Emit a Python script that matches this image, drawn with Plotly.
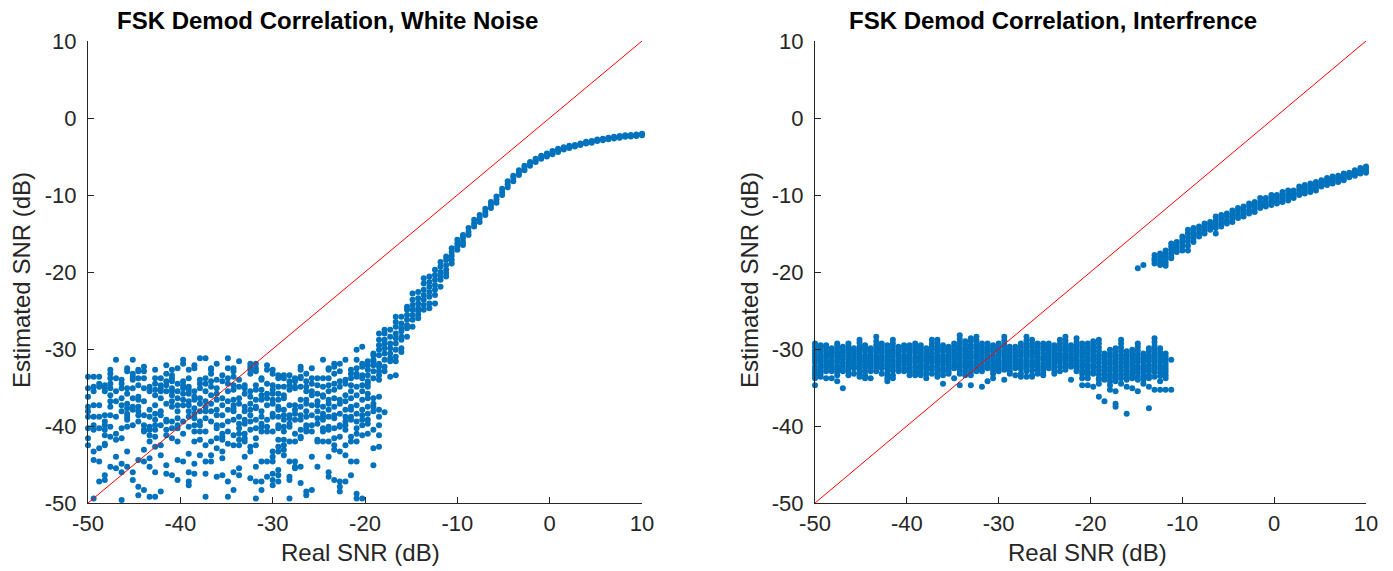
import plotly.graph_objects as go

# Real SNR grid (dB), one column of trials per value
snr_db = [-50.00,-49.39,-48.79,-48.18,-47.58,-46.97,-46.36,-45.76,-45.15,-44.55,
          -43.94,-43.33,-42.73,-42.12,-41.52,-40.91,-40.30,-39.70,-39.09,-38.48,
          -37.88,-37.27,-36.67,-36.06,-35.45,-34.85,-34.24,-33.64,-33.03,-32.42,
          -31.82,-31.21,-30.61,-30.00,-29.39,-28.79,-28.18,-27.58,-26.97,-26.36,
          -25.76,-25.15,-24.55,-23.94,-23.33,-22.73,-22.12,-21.52,-20.91,-20.30,
          -19.70,-19.09,-18.48,-17.88,-17.27,-16.67,-16.06,-15.45,-14.85,-14.24,
          -13.64,-13.03,-12.42,-11.82,-11.21,-10.61,-10.00,-9.39,-8.79,-8.18,
          -7.58,-6.97,-6.36,-5.76,-5.15,-4.55,-3.94,-3.33,-2.73,-2.12,
          -1.52,-0.91,-0.30,0.30,0.91,1.52,2.12,2.73,3.33,3.94,
          4.55,5.15,5.76,6.36,6.97,7.58,8.18,8.79,9.39,10.00]

# Estimated SNR (dB), white-noise case: one list of trial estimates per snr_db value
white_noise_est = [
    [-33.6,-35.1,-36.2,-37.5,-38.1,-38.8,-40.3,-41.6,-42.5],
    [-33.6,-34.9,-35.5,-37.3,-38.8,-39.9,-40.5,-43.3,-44.4,-49.4],
    [-33.6,-34.5,-34.9,-37.3,-38.8,-40.3,-42.9,-44.6,-47.2],
    [-34.7,-35.1,-35.5,-38.6,-39.4,-39.9,-40.5,-41.2,-42.3,-42.5,-46.4,-47.0],
    [-32.7,-33.2,-33.8,-34.5,-35.1,-36.0,-36.8,-37.5,-38.6,-40.1,-41.4,-45.3],
    [-31.4,-33.8,-35.5,-36.8,-38.8,-41.0,-41.8,-44.0,-45.5],
    [-34.0,-34.5,-35.1,-36.4,-37.3,-38.1,-40.3,-41.6,-44.9,-46.0,-49.6],
    [-32.5,-32.9,-35.1,-35.8,-37.1,-37.7,-38.4,-38.8,-39.2,-40.1,-43.3,-45.3],
    [-31.4,-33.2,-33.6,-34.0,-35.1,-36.4,-37.5,-37.9,-39.9,-46.0,-47.0],
    [-32.7,-32.9,-33.8,-34.7,-36.2,-36.6,-37.5,-38.1,-38.6,-39.4,-44.4,-47.9,-49.0],
    [-32.3,-32.9,-33.8,-35.1,-36.8,-38.6,-39.9,-40.5,-40.7,-43.1,-44.6,-48.3],
    [-34.9,-35.5,-37.9,-38.8,-40.1,-40.5,-41.2,-42.0,-44.2,-45.3,-49.2],
    [-32.7,-33.8,-34.5,-35.3,-36.0,-37.3,-38.4,-39.2,-39.9,-40.5,-41.4,-42.7,-46.0,-49.2],
    [-33.8,-34.7,-35.1,-35.5,-36.4,-38.1,-38.6,-39.9,-42.5,-43.8,-48.5],
    [-32.1,-33.2,-34.2,-34.7,-35.5,-37.1,-39.2,-39.4,-40.5,-41.2,-45.1,-46.2],
    [-32.7,-33.4,-33.8,-34.2,-35.1,-35.5,-36.0,-36.8,-37.5,-39.4,-40.3,-41.6,-46.4],
    [-32.5,-34.5,-35.5,-36.4,-37.3,-38.1,-39.0,-39.9,-40.3,-42.0,-44.4,-47.0],
    [-31.4,-31.9,-34.2,-34.7,-35.1,-35.8,-36.6,-37.3,-39.4,-41.0,-44.6],
    [-32.7,-33.8,-34.9,-35.3,-35.8,-36.8,-37.3,-38.1,-38.8,-40.1,-43.6,-46.0,-47.2,-47.7],
    [-32.1,-32.5,-35.5,-36.2,-36.6,-37.7,-38.4,-39.0,-39.9,-40.7,-42.0,-44.9,-46.2],
    [-31.2,-34.0,-34.5,-35.1,-36.4,-37.1,-38.1,-39.4,-39.9,-40.7,-41.8,-43.8],
    [-31.2,-33.8,-34.5,-35.5,-36.8,-37.5,-38.1,-39.0,-40.7,-42.5,-44.6,-46.2,-49.2],
    [-32.5,-32.7,-33.2,-34.2,-34.9,-36.0,-37.1,-38.1,-39.4,-42.0,-43.8,-44.6],
    [-31.9,-34.0,-35.1,-35.8,-36.6,-37.9,-38.6,-39.9,-40.3,-41.6,-42.9,-46.6],
    [-33.4,-34.2,-36.4,-37.3,-38.6,-39.9,-41.0,-41.4,-41.8,-43.3,-44.2,-46.4],
    [-31.2,-32.5,-33.8,-34.5,-35.5,-36.8,-37.9,-39.4,-40.7,-42.3,-47.2,-49.2],
    [-32.5,-32.9,-33.6,-34.7,-35.3,-36.6,-37.3,-37.7,-38.1,-39.2,-41.2,-42.5,-46.0,-48.3],
    [-31.6,-34.0,-34.9,-36.4,-37.1,-38.8,-39.7,-40.3,-41.0,-41.8,-42.5,-45.5,-46.4],
    [-34.7,-35.1,-35.8,-37.5,-38.1,-39.2,-39.7,-41.0,-41.6,-42.0,-44.0],
    [-31.9,-32.3,-32.7,-33.2,-35.5,-36.2,-37.1,-37.9,-38.6,-39.4,-40.5,-42.7,-43.3,-46.8],
    [-31.9,-32.5,-32.9,-34.7,-35.3,-36.6,-37.5,-37.7,-39.2,-40.3,-41.6,-42.5,-45.3,-47.2,-49.4],
    [-33.8,-34.0,-35.3,-36.0,-36.6,-38.1,-38.8,-39.7,-40.1,-40.7,-44.6,-47.2,-48.3],
    [-32.1,-32.7,-34.5,-35.8,-36.4,-37.3,-39.2,-40.1,-40.7,-44.6,-46.6],
    [-32.7,-33.2,-34.7,-35.3,-35.8,-36.6,-37.1,-38.4,-38.8,-40.7,-43.3,-44.0,-44.6,-46.2,-47.0,-47.7],
    [-33.4,-33.8,-34.9,-35.8,-36.6,-37.5,-37.9,-38.8,-39.9,-40.3,-41.8,-42.7,-43.3,-45.7,-46.4,-47.2],
    [-33.4,-33.8,-34.9,-36.0,-36.4,-37.9,-38.6,-39.2,-40.1,-40.7,-41.8,-42.5,-43.1,-43.8],
    [-33.4,-34.2,-34.7,-35.3,-37.3,-38.6,-39.0,-39.7,-40.1,-42.0,-44.6,-46.6,-47.0,-49.4],
    [-33.8,-34.2,-34.9,-35.1,-37.3,-37.9,-38.4,-39.2,-41.0,-42.0,-44.6,-45.3,-45.5],
    [-32.3,-32.7,-33.6,-33.8,-34.9,-36.6,-37.5,-38.6,-39.2,-40.5,-41.4,-41.6,-45.3,-47.4],
    [-33.2,-34.2,-34.9,-35.5,-36.6,-37.1,-38.1,-38.8,-39.9,-40.3,-40.7,-48.5,-49.0],
    [-32.5,-33.8,-34.5,-35.5,-36.0,-37.3,-38.6,-39.9,-40.7,-44.0,-48.3],
    [-33.8,-34.7,-35.8,-36.8,-37.3,-38.1,-39.0,-39.7,-41.8,-42.0,-45.3],
    [-31.4,-33.8,-34.9,-36.0,-36.2,-37.5,-38.4,-38.8,-39.2,-40.3,-40.7,-42.0],
    [-32.5,-32.7,-33.8,-34.7,-35.5,-36.6,-37.1,-37.9,-38.8,-40.1,-40.5,-42.0,-44.0,-46.0,-46.6],
    [-31.9,-32.3,-33.2,-34.5,-35.3,-36.4,-37.5,-38.6,-39.0,-40.3,-41.6,-42.5,-43.1,-47.0],
    [-31.9,-32.9,-34.2,-34.9,-36.6,-37.1,-38.4,-39.9,-40.1,-41.4,-43.3,-47.2,-47.9,-48.5],
    [-31.4,-34.0,-34.5,-36.0,-36.8,-37.9,-38.8,-39.4,-39.9,-40.5,-42.5,-43.8,-47.2],
    [-32.7,-33.2,-33.8,-34.7,-35.5,-36.4,-37.5,-37.9,-38.8,-39.2,-41.4,-42.0,-44.6,-46.4],
    [-30.1,-31.4,-32.5,-33.2,-33.6,-34.9,-36.0,-37.3,-38.4,-39.4,-40.3,-41.0,-42.0,-44.6,-48.8,-49.4],
    [-29.7,-31.9,-32.3,-33.4,-33.8,-34.7,-35.5,-36.6,-37.9,-38.6,-39.2,-39.9,-41.2,-49.4],
    [-31.6,-32.1,-32.7,-33.4,-34.2,-34.5,-34.9,-35.8,-36.4,-37.5,-38.4,-39.2,-39.7,-41.0],
    [-30.6,-30.8,-31.4,-31.6,-32.1,-32.9,-33.8,-36.4,-37.1,-37.5,-38.1,-40.5,-42.9,-45.1],
    [-28.0,-28.8,-29.5,-30.1,-30.8,-31.9,-32.3,-32.9,-33.4,-34.0,-36.2,-37.9,-38.8,-39.9,-41.2,-42.7],
    [-27.5,-28.0,-28.8,-29.3,-29.9,-30.6,-31.4,-32.3,-32.9,-38.2],
    [-27.5,-28.4,-29.3,-29.9,-30.6,-31.2,-31.6,-33.6],
    [-25.8,-26.5,-27.1,-28.0,-28.6,-29.3,-30.1,-31.0,-31.6,-33.4],
    [-25.8,-26.7,-27.3,-27.7,-28.4,-28.8,-29.9,-30.4],
    [-24.5,-24.9,-25.6,-26.2,-26.9,-27.3,-28.4],
    [-22.8,-23.6,-24.3,-24.9,-25.6,-26.2,-27.1],
    [-22.6,-23.4,-24.1,-24.7,-25.1,-25.6,-26.0],
    [-20.8,-21.5,-22.3,-23.0,-23.6,-24.3,-24.9],
    [-20.6,-21.3,-21.9,-22.6,-23.2,-24.1,-24.7],
    [-19.7,-20.4,-21.0,-21.7,-22.3,-23.0,-24.1],
    [-18.7,-19.3,-20.0,-20.6,-21.0,-21.9],
    [-18.0,-18.4,-19.1,-19.7,-20.2,-20.6],
    [-16.9,-17.4,-17.9,-18.4,-18.9],
    [-15.8,-16.3,-16.7,-17.1],
    [-15.2,-15.6,-16.1,-16.5],
    [-14.3,-14.8,-15.2],
    [-13.2,-13.7,-14.1],
    [-12.6,-13.0,-13.5],
    [-11.8,-12.2,-12.6],
    [-10.9,-11.3,-11.7],
    [-10.2,-10.6,-11.0],
    [-9.2,-9.6,-10.0],
    [-8.2,-8.6,-9.0],
    [-7.5,-7.8,-8.2],
    [-6.8,-7.1,-7.4],
    [-6.2,-6.5,-6.8],
    [-5.7,-5.9,-6.2],
    [-5.3,-5.5,-5.7],
    [-4.9,-5.1,-5.3],
    [-4.6,-4.8,-5.0],
    [-4.3,-4.5,-4.7],
    [-4.0,-4.2,-4.4],
    [-3.8,-4.0,-4.1],
    [-3.6,-3.8,-3.9],
    [-3.5,-3.6,-3.7],
    [-3.3,-3.4,-3.5],
    [-3.1,-3.2,-3.3],
    [-3.0,-3.1,-3.2],
    [-2.8,-2.9,-3.0],
    [-2.7,-2.8,-2.9],
    [-2.55,-2.65,-2.75],
    [-2.45,-2.55,-2.65],
    [-2.35,-2.45,-2.55],
    [-2.25,-2.35,-2.45],
    [-2.2,-2.3,-2.4],
    [-2.15,-2.25,-2.35],
    [-2.05,-2.15,-2.25],
]

# Estimated SNR (dB), interference case
interference_est = [
    [-29.3,-29.7,-30.2,-30.6,-31.0,-31.4,-31.8,-32.3,-32.7,-33.1,-33.4,-33.8,-34.7],
    [-29.5,-29.9,-30.3,-30.8,-31.2,-31.5,-32.0,-32.4,-32.8,-33.2,-33.6],
    [-29.5,-29.8,-30.3,-30.7,-31.1,-31.6,-32.0,-32.4,-32.9,-33.8],
    [-29.9,-30.3,-30.6,-31.0,-31.5,-31.9,-32.3,-32.6,-32.9,-33.8],
    [-29.3,-29.6,-30.0,-30.5,-30.9,-31.3,-31.7,-32.2,-32.6,-33.0,-33.4,-34.2],
    [-29.7,-30.1,-30.5,-30.9,-31.3,-31.8,-32.2,-32.6,-32.9,-35.1],
    [-29.3,-29.6,-30.1,-30.5,-30.9,-31.4,-31.8,-32.2,-32.6,-33.0,-33.4],
    [-29.9,-30.3,-30.7,-31.1,-31.5,-31.9,-32.3,-32.5,-33.2],
    [-28.8,-29.2,-29.7,-30.1,-30.5,-31.0,-31.4,-31.8,-32.2,-32.7,-33.1,-33.6],
    [-29.5,-29.9,-30.3,-30.8,-31.2,-31.6,-32.0,-32.4,-32.9,-33.4,-33.8],
    [-29.9,-30.2,-30.6,-31.0,-31.4,-31.8,-32.2,-32.6,-32.9,-33.8],
    [-28.4,-29.0,-29.5,-29.9,-30.3,-30.8,-31.2,-31.6,-32.0,-32.4,-32.9],
    [-29.3,-29.7,-30.1,-30.5,-31.0,-31.4,-31.8,-32.1,-32.5,-33.2],
    [-29.5,-29.9,-30.4,-30.8,-31.2,-31.6,-32.1,-32.5,-33.0,-33.4,-33.8,-34.2],
    [-28.8,-29.3,-29.7,-30.2,-30.6,-31.0,-31.5,-31.9,-32.3,-32.8,-33.4,-33.8],
    [-29.7,-30.1,-30.5,-30.9,-31.3,-31.7,-32.1,-32.5,-32.9],
    [-29.5,-29.9,-30.3,-30.8,-31.2,-31.6,-32.0,-32.5,-32.9],
    [-29.5,-29.9,-30.3,-30.7,-31.2,-31.6,-32.0,-32.4,-32.9,-33.4],
    [-29.3,-29.7,-30.1,-30.5,-31.0,-31.4,-31.8,-32.3,-32.7,-33.1,-33.4],
    [-29.5,-29.9,-30.4,-30.8,-31.2,-31.6,-32.1,-32.5,-33.0,-33.4],
    [-29.9,-30.3,-30.7,-31.1,-31.5,-31.9,-32.3,-32.7,-33.2,-33.8],
    [-28.8,-29.3,-29.7,-30.1,-30.6,-31.0,-31.4,-31.8,-32.3,-32.7,-33.2],
    [-28.8,-29.2,-29.7,-30.1,-30.5,-31.0,-31.4,-31.8,-32.2,-32.7,-33.2,-33.6],
    [-29.5,-29.9,-30.3,-30.8,-31.2,-31.6,-32.0,-32.5,-32.9,-33.4,-34.5],
    [-29.7,-30.1,-30.5,-30.9,-31.3,-31.7,-32.1,-32.5,-32.9,-33.2],
    [-29.3,-29.7,-30.1,-30.5,-30.9,-31.3,-31.7,-32.1,-32.5,-33.8],
    [-28.2,-28.7,-29.2,-29.7,-30.1,-30.6,-31.0,-31.4,-31.9,-32.3,-32.8,-33.2,-34.7],
    [-29.0,-29.4,-29.9,-30.3,-30.7,-31.1,-31.6,-32.0,-32.4,-32.9,-33.4],
    [-28.6,-29.0,-29.5,-29.9,-30.4,-30.8,-31.2,-31.7,-32.1,-32.5,-33.0,-33.4,-34.7],
    [-28.4,-28.9,-29.4,-29.8,-30.3,-30.7,-31.1,-31.6,-32.0,-32.4,-32.9],
    [-29.3,-29.7,-30.1,-30.5,-30.9,-31.3,-31.7,-32.1,-32.5,-32.9,-34.9],
    [-29.3,-29.7,-30.1,-30.5,-30.9,-31.3,-31.7,-32.1,-32.5,-34.2],
    [-29.5,-29.9,-30.3,-30.8,-31.2,-31.6,-32.0,-32.4,-32.8,-33.2,-33.8],
    [-29.3,-29.7,-30.1,-30.5,-30.9,-31.4,-31.8,-32.2,-32.6,-32.9],
    [-28.4,-28.9,-29.4,-29.8,-30.3,-30.7,-31.1,-31.6,-32.0,-32.4,-32.7,-34.0],
    [-29.7,-30.1,-30.5,-30.9,-31.3,-31.7,-32.1,-32.5,-32.9,-33.2],
    [-29.7,-30.1,-30.5,-30.9,-31.3,-31.7,-32.1,-32.5,-33.4],
    [-29.3,-29.7,-30.1,-30.5,-30.9,-31.4,-31.8,-32.2,-32.6,-33.2,-33.6],
    [-28.4,-28.9,-29.4,-29.8,-30.3,-30.7,-31.1,-31.6,-32.0,-32.4,-32.9,-33.6],
    [-28.8,-29.3,-29.7,-30.2,-30.6,-31.0,-31.5,-31.9,-32.3,-32.8,-33.4,-33.6],
    [-29.3,-29.7,-30.1,-30.5,-31.0,-31.4,-31.8,-32.3,-32.7,-33.2],
    [-29.3,-29.7,-30.1,-30.6,-31.0,-31.4,-31.9,-32.3,-32.7,-33.1,-33.4],
    [-29.3,-29.7,-30.1,-30.5,-30.9,-31.3,-31.7,-32.1,-32.5],
    [-29.5,-29.9,-30.3,-30.7,-31.1,-31.5,-31.9,-32.4,-32.8,-33.2],
    [-28.8,-29.3,-29.7,-30.1,-30.6,-31.0,-31.4,-31.8,-32.3,-32.9],
    [-28.4,-28.9,-29.3,-29.8,-30.2,-30.7,-31.1,-31.5,-32.0,-32.4,-32.7],
    [-29.5,-29.9,-30.3,-30.7,-31.1,-31.5,-31.9,-32.3,-34.0],
    [-28.6,-29.1,-29.5,-30.0,-30.4,-30.9,-31.3,-31.7,-32.2,-32.6,-32.9],
    [-29.3,-29.7,-30.2,-30.6,-31.0,-31.5,-31.9,-32.3,-32.8,-33.2,-33.8,-34.7],
    [-29.3,-29.8,-30.2,-30.6,-31.1,-31.5,-32.0,-32.4,-32.9,-33.3,-33.8,-34.7],
    [-29.0,-29.5,-29.9,-30.3,-30.8,-31.2,-31.6,-32.1,-32.5,-33.0,-33.2,-34.9],
    [-28.8,-29.3,-29.8,-30.3,-30.8,-31.3,-31.8,-32.3,-32.8,-33.3,-33.8,-34.0,-34.5,-36.2],
    [-30.6,-31.0,-31.4,-31.8,-32.2,-32.6,-33.0,-33.4,-33.8,-34.0,-36.8],
    [-30.1,-30.6,-31.0,-31.5,-31.9,-32.4,-32.8,-33.3,-33.7,-34.2,-34.7,-35.3],
    [-29.9,-30.3,-30.8,-31.2,-31.7,-32.1,-32.6,-33.0,-33.5,-33.9,-34.2,-35.5,-37.1,-37.5],
    [-28.8,-29.3,-29.8,-30.3,-30.8,-31.3,-31.8,-32.3,-32.8,-33.3,-33.8,-34.5],
    [-30.3,-30.7,-31.1,-31.6,-32.0,-32.4,-32.9,-33.3,-33.7,-34.0,-34.9,-38.4],
    [-30.1,-30.5,-30.9,-31.4,-31.8,-32.2,-32.7,-33.1,-33.5,-33.8,-35.1],
    [-19.5,-29.3,-29.7,-30.2,-30.7,-31.2,-31.7,-32.2,-32.6,-33.1,-33.6,-34.0,-35.5],
    [-19.1,-30.6,-31.0,-31.4,-31.8,-32.3,-32.7,-33.1,-33.5,-34.0,-34.5],
    [-29.9,-30.3,-30.8,-31.2,-31.6,-32.1,-32.5,-32.9,-33.4,-33.8,-34.9,-37.7],
    [-17.8,-18.2,-18.5,-18.9,-28.6,-29.1,-29.6,-30.1,-30.6,-31.1,-31.6,-32.0,-32.5,-33.0,-33.6,-35.3],
    [-17.6,-18.0,-18.4,-18.8,-19.1,-29.9,-30.4,-30.8,-31.3,-31.7,-32.2,-32.6,-33.1,-33.5,-34.2,-35.3],
    [-17.2,-17.6,-18.0,-18.4,-18.8,-19.2,-30.6,-31.0,-31.4,-31.8,-32.2,-32.6,-33.0,-33.4,-33.8,-35.3],
    [-16.3,-16.7,-17.1,-17.6,-18.0,-18.2,-31.4,-35.3],
    [-16.1,-16.5,-16.9,-17.4],
    [-15.4,-15.8,-16.2,-16.7,-17.2],
    [-14.5,-15.0,-15.5,-16.0,-16.6,-17.2],
    [-14.3,-14.8,-15.2,-15.7,-16.1],
    [-14.1,-14.5,-15.0,-15.4],
    [-13.7,-14.1,-14.6,-15.0],
    [-13.5,-13.8,-14.2,-14.5],
    [-12.8,-13.3,-13.8,-14.3,-15.0],
    [-12.6,-13.1,-13.6,-14.1],
    [-12.4,-12.8,-13.3,-13.7],
    [-12.0,-12.5,-13.0,-13.5],
    [-11.7,-12.1,-12.6,-13.0],
    [-11.5,-11.9,-12.4,-12.8],
    [-11.1,-11.5,-12.0,-12.4],
    [-10.9,-11.3,-11.8,-12.2],
    [-10.4,-10.9,-11.3,-11.7],
    [-10.4,-10.8,-11.2,-11.5],
    [-10.0,-10.4,-10.9,-11.3],
    [-10.0,-10.4,-10.8,-11.1],
    [-9.6,-10.0,-10.5,-10.9],
    [-9.4,-9.9,-10.3,-10.7],
    [-9.4,-9.8,-10.1,-10.4],
    [-8.9,-9.3,-9.7,-10.0],
    [-8.7,-9.1,-9.5,-9.8],
    [-8.5,-8.9,-9.3,-9.6],
    [-8.3,-8.7,-9.1,-9.4],
    [-8.1,-8.4,-8.7,-8.9],
    [-7.8,-8.1,-8.4,-8.7],
    [-7.6,-7.9,-8.2,-8.5],
    [-7.5,-7.8,-8.0,-8.3],
    [-7.2,-7.5,-7.8,-8.1],
    [-7.1,-7.3,-7.5,-7.7],
    [-6.8,-7.0,-7.3,-7.5],
    [-6.5,-6.8,-7.0,-7.2],
    [-6.3,-6.6,-6.9,-7.1],
]

# Ideal estimate reference line (estimated = real)
ideal_x = [-50, 10]
ideal_y = [-50, 10]

tick_vals = [-50, -40, -30, -20, -10, 0, 10]
tick_text = ["-50", "-40", "-30", "-20", "-10", "0", "10"]

titles = ["FSK Demod Correlation, White Noise", "FSK Demod Correlation, Interfrence"]
x_label = "Real SNR (dB)"
y_label = "Estimated SNR (dB)"


def flatten(est):
    xs, ys = [], []
    for x, col in zip(snr_db, est):
        for y in col:
            xs.append(x)
            ys.append(y)
    return xs, ys


W, H = 1393, 571
FONT = "Liberation Sans, Arial, Helvetica, sans-serif"
AX_COLOR = "#262626"
DOT = "#0072BD"

fig = go.Figure()
for est, xa, ya in [(white_noise_est, "x", "y"), (interference_est, "x2", "y2")]:
    xs, ys = flatten(est)
    fig.add_trace(go.Scatter(x=xs, y=ys, mode="markers", xaxis=xa, yaxis=ya,
                             marker=dict(size=6, color=DOT, line=dict(width=0)),
                             cliponaxis=False, showlegend=False, hoverinfo="x+y"))
    fig.add_trace(go.Scatter(x=ideal_x, y=ideal_y, mode="lines", xaxis=xa, yaxis=ya,
                             line=dict(color="#ff0000", width=1),
                             showlegend=False, hoverinfo="skip"))

# plot-area pixel boxes
left_box = (88, 642)
right_box = (815, 1366)
top_px, bot_px = 41, 503
ydom = [(H - bot_px) / H, (H - top_px) / H]


def axis_common(is_y):
    return dict(range=[-50, 10], tickvals=tick_vals, ticktext=tick_text,
                showline=True, linecolor=AX_COLOR, linewidth=1.2,
                ticks="inside", ticklen=6, tickwidth=1, tickcolor=AX_COLOR,
                showgrid=False, zeroline=False, mirror=False, automargin=False,
                ticklabelstandoff=6 if is_y else 0,
                tickfont=dict(family=FONT, size=22, color=AX_COLOR))


fig.update_layout(
    width=W, height=H,
    margin=dict(l=0, r=0, t=0, b=0),
    paper_bgcolor="white", plot_bgcolor="white",
    xaxis=dict(domain=[left_box[0] / W, left_box[1] / W], anchor="y", **axis_common(False)),
    yaxis=dict(domain=ydom, anchor="x", **axis_common(True)),
    xaxis2=dict(domain=[right_box[0] / W, right_box[1] / W], anchor="y2", **axis_common(False)),
    yaxis2=dict(domain=ydom, anchor="x2", **axis_common(True)),
)

# text positions in window pixels: (title centre x, x-label centre x, y-label x)
text_pos = [(327, 360, 22), (1053, 1087, 750)]
ylab_center_px = 280

annotations = []
for (tx, lx, yx), title in zip(text_pos, titles):
    annotations.append(dict(text="<b>%s</b>" % title, x=tx / W, y=(H - 20) / H, xref="paper", yref="paper",
                            showarrow=False, xanchor="center", yanchor="middle",
                            font=dict(family=FONT, size=24, color="black")))
    annotations.append(dict(text=x_label, x=lx / W, y=(H - 552) / H, xref="paper", yref="paper",
                            showarrow=False, xanchor="center", yanchor="middle",
                            font=dict(family=FONT, size=24, color=AX_COLOR)))
    annotations.append(dict(text=y_label, x=yx / W, y=(H - ylab_center_px) / H,
                            xref="paper", yref="paper", textangle=-90,
                            showarrow=False, xanchor="center", yanchor="middle",
                            font=dict(family=FONT, size=24, color=AX_COLOR)))
fig.update_layout(annotations=annotations)

# remove the page's default body margin so the figure sits at the window origin
fig.write_html("out.html", config={"displayModeBar": False},
               post_script="document.body.style.margin='0';")
